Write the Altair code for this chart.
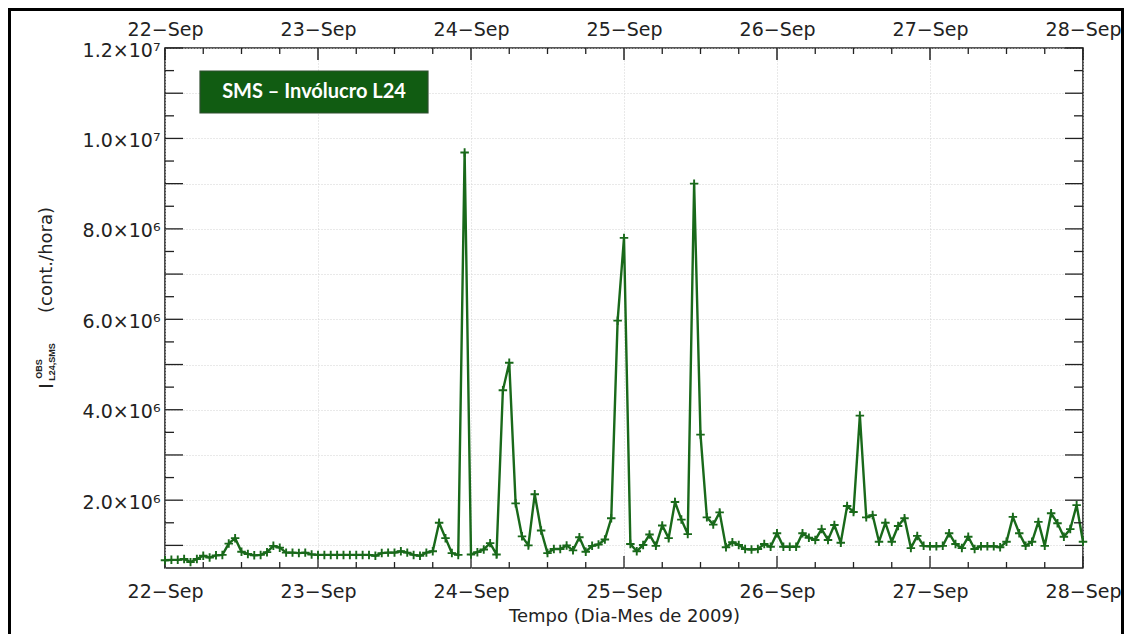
import altair as alt
import pandas as pd

# ---------------- data ----------------
hours = list(range(0, 145))  # hourly samples from 22-Sep 00:00 to 28-Sep 00:00
counts_millions = [
    0.67, 0.68, 0.68, 0.70, 0.63, 0.70, 0.77, 0.73, 0.78, 0.79,
    1.04, 1.16, 0.86, 0.81, 0.78, 0.79, 0.85, 0.99, 0.95, 0.84,
    0.84, 0.83, 0.84, 0.80, 0.79, 0.79, 0.79, 0.79, 0.79, 0.79,
    0.79, 0.79, 0.79, 0.77, 0.83, 0.84, 0.84, 0.87, 0.84, 0.79,
    0.77, 0.84, 0.87, 1.50, 1.16, 0.83, 0.79, 9.69, 0.80, 0.85,
    0.91, 1.05, 0.80, 4.43, 5.04, 1.93, 1.20, 1.00, 2.13, 1.33,
    0.83, 0.92, 0.92, 1.00, 0.89, 1.18, 0.86, 0.99, 1.02, 1.13,
    1.60, 5.97, 7.80, 1.03, 0.87, 1.01, 1.24, 0.99, 1.44, 1.16,
    1.96, 1.57, 1.25, 9.00, 3.45, 1.62, 1.46, 1.73, 0.96, 1.07,
    1.01, 0.92, 0.91, 0.92, 1.03, 0.97, 1.27, 0.97, 0.97, 0.97,
    1.27, 1.17, 1.12, 1.36, 1.12, 1.45, 1.06, 1.87, 1.74, 3.87,
    1.62, 1.67, 1.08, 1.50, 1.08, 1.43, 1.60, 0.94, 1.21, 0.99,
    0.98, 0.98, 0.99, 1.27, 1.03, 0.94, 1.19, 0.92, 0.98, 0.98,
    0.98, 0.96, 1.08, 1.63, 1.27, 0.99, 1.08, 1.52, 0.99, 1.71,
    1.49, 1.19, 1.36, 1.89, 1.08,
]

day_ticks = [0, 24, 48, 72, 96, 120, 144]
day_labels = ["22−Sep", "23−Sep", "24−Sep", "25−Sep", "26−Sep", "27−Sep", "28−Sep"]
six_hour_ticks = [6, 12, 18, 30, 36, 42, 54, 60, 66, 78, 84, 90,
                  102, 108, 114, 126, 132, 138]

y_grid = [1e6, 2e6, 3e6, 4e6, 5e6, 6e6, 7e6, 8e6, 9e6, 1e7, 1.1e7, 1.2e7]
y_minor = [1.5e6, 2.5e6, 3.5e6, 4.5e6, 5.5e6, 6.5e6, 7.5e6, 8.5e6,
           9.5e6, 1.05e7, 1.15e7]
y_label_values = [2e6, 4e6, 6e6, 8e6, 1e7, 1.2e7]
y_label_texts = ["2.0×10⁶", "4.0×10⁶", "6.0×10⁶", "8.0×10⁶", "1.0×10⁷", "1.2×10⁷"]

df = pd.DataFrame({"hour": hours, "count": [v * 1e6 for v in counts_millions]})
one = pd.DataFrame({"a": [0]})

# ---------------- style ----------------
W, H = 918, 520
PAD = {"left": 157, "top": 40, "right": 41, "bottom": 66}
GREEN = "#19691a"
INK = "#222222"
FONT = "DejaVu Sans"
GRID = "#d2d2d2"

XS = alt.Scale(domain=[0, 144], nice=False, zero=False)
YS = alt.Scale(domain=[5e5, 1.2e7], nice=False, zero=False)

x_label_expr = " : ".join(
    f"datum.value == {v} ? '{t}'" for v, t in zip(day_ticks, day_labels)) + " : ''"
y_label_expr = " : ".join(
    f"abs(datum.value - {int(v)}) < 1 ? '{t}'" for v, t in zip(y_label_values, y_label_texts)) + " : ''"

# main line with bottom / left axes and grid
line = alt.Chart(df).mark_line(color=GREEN, strokeWidth=2.4).encode(
    x=alt.X("hour:Q", scale=XS, axis=alt.Axis(
        values=day_ticks, labelExpr=x_label_expr, grid=True, gridColor=GRID,
        gridDash=[1, 2], gridWidth=1, ticks=False, domain=False,
        labelFlush=False, labelOverlap=False, labelPadding=14,
        labelFont=FONT, labelFontSize=19, labelColor=INK,
        title="Tempo (Dia-Mes de 2009)", titleFont=FONT, titleFontSize=18,
        titleFontWeight="normal", titleColor=INK, titleY=53,
        titleBaseline="alphabetic")),
    y=alt.Y("count:Q", scale=YS, axis=alt.Axis(
        values=y_grid, labelExpr=y_label_expr, grid=True, gridColor=GRID,
        gridDash=[1, 2], gridWidth=1, ticks=False, domain=False,
        labelOverlap=False, labelFlush=False, labelPadding=5, labelOffset=2,
        labelFont=FONT, labelFontSize=19, labelColor=INK, title=None)),
)

points = alt.Chart(df).mark_point(
    shape="M-1,0L1,0M0,-1L0,1", filled=False, size=72, strokeWidth=1.9,
    color=GREEN, opacity=1).encode(
    x=alt.X("hour:Q", scale=XS, axis=None),
    y=alt.Y("count:Q", scale=YS, axis=None),
)

# top axis labels + top major ticks
top_major = alt.Chart(pd.DataFrame({"hour": day_ticks})).mark_rule(
    color=INK, strokeWidth=1.5).encode(
    x=alt.X("hour:Q", scale=XS, axis=alt.Axis(
        orient="top", values=day_ticks, labelExpr=x_label_expr, grid=False,
        ticks=False, domain=False, labelFlush=False, labelOverlap=False,
        labelPadding=9, labelFont=FONT, labelFontSize=19, labelColor=INK,
        title=None)),
    y=alt.value(0), y2=alt.value(12),
)


def xticks(vals, y0, y1):
    return alt.Chart(pd.DataFrame({"hour": vals})).mark_rule(
        color=INK, strokeWidth=1.3).encode(
        x=alt.X("hour:Q", scale=XS, axis=None), y=alt.value(y0), y2=alt.value(y1))


def yticks(vals, x0, x1):
    return alt.Chart(pd.DataFrame({"v": vals})).mark_rule(
        color=INK, strokeWidth=1.3).encode(
        y=alt.Y("v:Q", scale=YS, axis=None), x=alt.value(x0), x2=alt.value(x1))


tick_layers = [
    xticks(six_hour_ticks, 0, 6),
    xticks(day_ticks, H - 12, H),
    xticks(six_hour_ticks, H - 6, H),
    yticks(y_grid, 0, 18),
    yticks(y_minor, 0, 9),
    yticks(y_grid, W - 18, W),
    yticks(y_minor, W - 9, W),
]

# label box
box = alt.Chart(one).mark_rect(fill="#115c12", stroke="#2f4f2f", strokeWidth=1.2).encode(
    x=alt.value(35), x2=alt.value(263), y=alt.value(23), y2=alt.value(65))
box_text = alt.Chart(one).mark_text(
    text="SMS – Invólucro L24", font="Lato", fontWeight="bold", fontSize=20,
    color="white", align="center", baseline="middle").encode(
    x=alt.value(149), y=alt.value(44))

# y-axis title pieces (rotated)
yt_main = alt.Chart(one).mark_text(
    text="(cont./hora)", font=FONT, fontSize=18, color=INK, angle=270,
    align="center", baseline="middle").encode(x=alt.value(-118), y=alt.value(212))
yt_I = alt.Chart(one).mark_text(
    text="I", font=FONT, fontSize=20, color=INK, angle=270,
    align="center", baseline="middle").encode(x=alt.value(-118), y=alt.value(338))
yt_sup = alt.Chart(one).mark_text(
    text="OBS", font="Liberation Sans", fontWeight="bold", fontSize=9, color=INK,
    angle=270, align="center", baseline="middle").encode(x=alt.value(-126), y=alt.value(321))
yt_sub = alt.Chart(one).mark_text(
    text="L24,SMS", font="Liberation Sans", fontWeight="bold", fontSize=9, color=INK,
    angle=270, align="center", baseline="middle").encode(x=alt.value(-113), y=alt.value(314))

# outer picture frame
frame_top = alt.Chart(one).mark_rule(color="black", strokeWidth=3).encode(
    x=alt.value(-PAD["left"]), x2=alt.value(W + PAD["right"]), y=alt.value(-PAD["top"] + 1.5))
frame_left = alt.Chart(one).mark_rule(color="black", strokeWidth=3).encode(
    x=alt.value(-PAD["left"] + 1.5), y=alt.value(-PAD["top"]), y2=alt.value(H + PAD["bottom"]))
frame_right = alt.Chart(one).mark_rule(color="black", strokeWidth=3).encode(
    x=alt.value(W + PAD["right"] - 1.5), y=alt.value(-PAD["top"]), y2=alt.value(H + PAD["bottom"]))

chart = alt.layer(
    line, top_major, *tick_layers, points, box, box_text,
    yt_main, yt_I, yt_sup, yt_sub, frame_top, frame_left, frame_right,
).resolve_axis(x="independent", y="independent").properties(
    width=W, height=H,
    autosize=alt.AutoSizeParams(type="none"),
    padding=PAD,
    background="white",
).configure_view(stroke=INK, strokeWidth=1.6)

chart.save("out.html", embed_options={"renderer": "svg", "actions": False})
